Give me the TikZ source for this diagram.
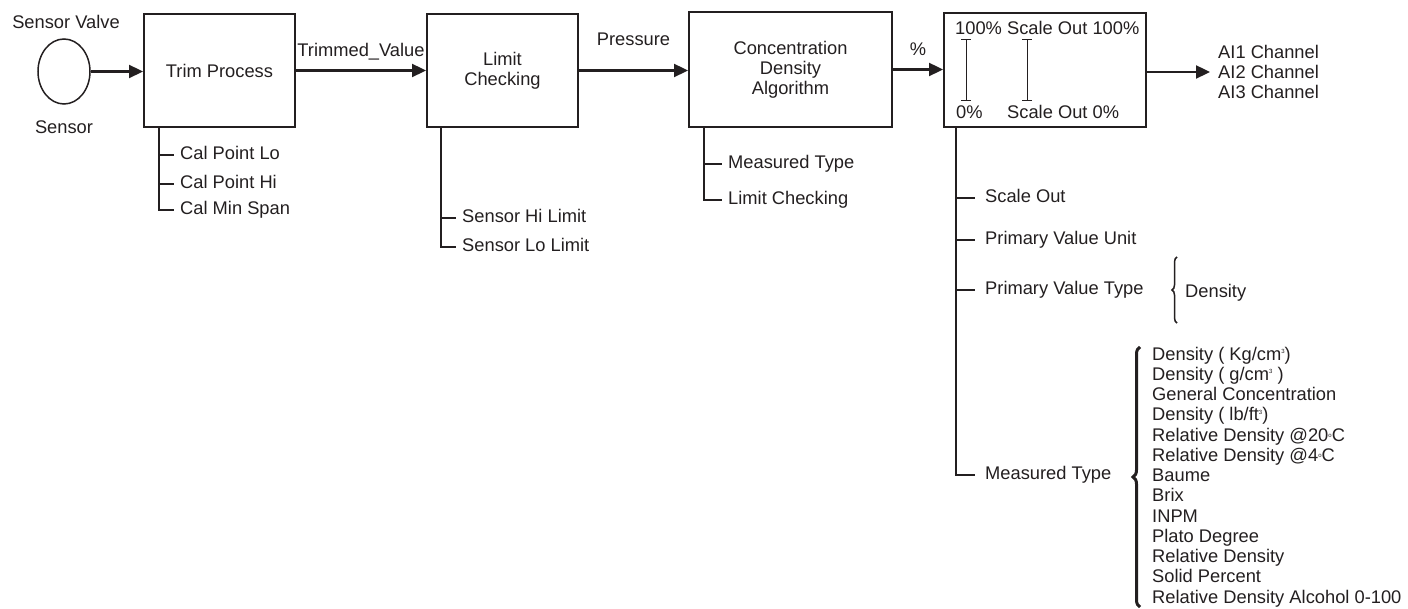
\documentclass[tikz,border=0pt]{standalone}
\usepackage{fontspec}
\setmainfont{Liberation Sans}
\usetikzlibrary{arrows.meta,shapes.geometric,decorations.pathreplacing}
\definecolor{ink}{HTML}{231F20}
% tiny raised marks for units and degrees
\newcommand\tinysup[1]{\raisebox{6.5pt}{\fontsize{6}{6}\selectfont #1}}
\newcommand\tinydeg{\raisebox{3.5pt}{\fontsize{6}{6}\selectfont o}}
\begin{document}
\begin{tikzpicture}[x=1pt,y=-1pt,
  every node/.style={text=ink},
  txt/.style={font=\fontsize{18.3}{20}\selectfont, inner sep=0pt, text height=13.5pt, text depth=3.8pt},
  block/.style={draw=ink, line width=2pt, rectangle, align=center, inner sep=0pt,
                font=\fontsize{18.3}{20}\selectfont},
  flow/.style={draw=ink, line width=2.3pt, -{Triangle[length=14pt,width=13pt]}},
  tree/.style={draw=ink, line width=1.7pt},
  item/.style={txt, anchor=west, inner xsep=6pt},
  flowlabel/.style={txt, above=9pt},
  ibar/.style={draw=ink, line width=1pt, {Bar[width=10pt]}-{Bar[width=10pt]}},
  bracesmall/.style={draw=ink, line width=1.5pt, decorate, decoration={brace, amplitude=5pt}},
  bracebig/.style={draw=ink, line width=3pt, decorate, decoration={brace, amplitude=7pt}},
]
\useasboundingbox (0,0) rectangle (1408,609);

% sensor
\node[ellipse, draw=ink, line width=1.5pt, minimum width=52pt, minimum height=65pt, inner sep=0pt] (sensor) at (64,71.5) {};
\node[txt] (sv) at (66,24) {Sensor Valve};
\node[txt] (sn) at (64,129) {Sensor};

% processing blocks
\node[block, minimum width=151pt, minimum height=113pt] (trim) at (219.5,70.5) {Trim Process};
\node[block, minimum width=151pt, minimum height=113pt] (limit) at (502.5,70.5) {Limit\\Checking};
\node[block, minimum width=203pt, minimum height=115pt] (conc) at (790.5,69.5) {Concentration\\Density\\Algorithm};
\node[block, minimum width=202pt, minimum height=114pt] (scale) at (1045,70) {};

% scaling block contents
\node[txt, anchor=west] (s100) at (955,30) {100\% Scale Out 100\%};
\node[txt, anchor=west] (s0) at (956,114) {0\%};
\node[txt, anchor=west] (so0) at (1007,114) {Scale Out 0\%};
\draw[ibar] (966,39) -- (966,101);
\draw[ibar] (1027,39) -- (1027,101);

% output channels
\node[anchor=west, align=left, inner sep=0pt, inner xsep=8pt, font=\fontsize{18.3}{20}\selectfont] (ai) at (1210,72) {AI1 Channel\\AI2 Channel\\AI3 Channel};

% signal flow
\draw[flow] (sensor.east) -- (sensor.east -| trim.west);
\draw[flow] (trim.east) -- node[flowlabel] {Trimmed\_Value} (limit.west);
\draw[flow] (limit.east) -- node[flowlabel, above=11pt] {Pressure} (limit.east -| conc.west);
\draw[flow] (conc.east) -- node[flowlabel] {\%} (conc.east -| scale.west);
\draw[flow] (scale.east |- ai.west) -- (ai.west);

% trim parameters
\coordinate (tt) at ([xshift=16pt]trim.south west);
\node[item] (cp1) at (174,155) {Cal Point Lo};
\node[item] (cp2) at (174,184) {Cal Point Hi};
\node[item] (cp3) at (174,210) {Cal Min Span};
\draw[tree] (tt) |- (cp3.west);
\draw[tree] (tt |- cp1.west) -- (cp1.west);
\draw[tree] (tt |- cp2.west) -- (cp2.west);

% limit parameters
\coordinate (lt) at ([xshift=15pt]limit.south west);
\node[item] (sh) at (456,218) {Sensor Hi Limit};
\node[item] (sl) at (456,247) {Sensor Lo Limit};
\draw[tree] (lt) |- (sl.west);
\draw[tree] (lt |- sh.west) -- (sh.west);

% algorithm parameters
\coordinate (ct) at ([xshift=16pt]conc.south west);
\node[item] (cm) at (722,164) {Measured Type};
\node[item] (cl) at (722,200) {Limit Checking};
\draw[tree] (ct) |- (cl.west);
\draw[tree] (ct |- cm.west) -- (cm.west);

% scaling parameters
\coordinate (st) at ([xshift=13pt]scale.south west);
\node[item, inner xsep=10pt] (so) at (975,198) {Scale Out};
\node[item, inner xsep=10pt] (pu) at (975,240) {Primary Value Unit};
\node[item, inner xsep=10pt] (pt) at (975,290) {Primary Value Type};
\node[item, inner xsep=10pt] (mt) at (975,475) {Measured Type};
\draw[tree] (st) |- (mt.west);
\draw[tree] (st |- so.west) -- (so.west);
\draw[tree] (st |- pu.west) -- (pu.west);
\draw[tree] (st |- pt.west) -- (pt.west);

% primary value type choice
\draw[bracesmall] (1177,323) -- (1177,257);
\node[txt, anchor=west] (dens) at (1185,293) {Density};

% measured type choices
\draw[bracebig] (1140,607) -- (1140,347);
\node[anchor=west, align=left, inner sep=0pt, font=\fontsize{18.3}{20.25}\selectfont] (mlist) at (1152,477) {%
Density ( Kg/cm\tinysup{3})\\
Density ( g/cm\tinysup{3} )\\
General Concentration\\
Density ( lb/ft\tinysup{3})\\
Relative Density @20\tinydeg C\\
Relative Density @4\tinydeg C\\
Baume\\
Brix\\
INPM\\
Plato Degree\\
Relative Density\\
Solid Percent\\
Relative Density Alcohol 0-100};
\end{tikzpicture}
\end{document}
